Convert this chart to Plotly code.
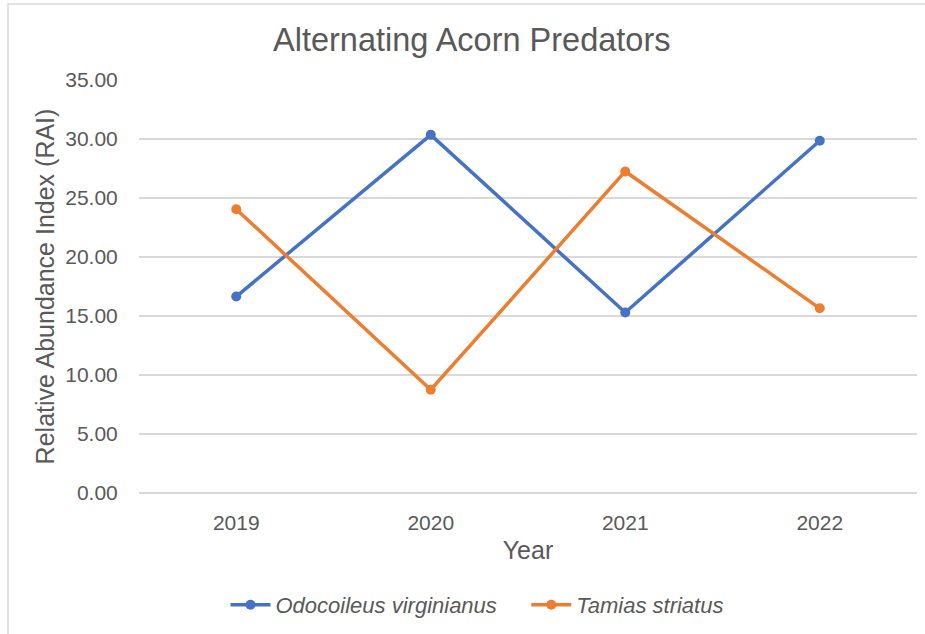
import plotly.graph_objects as go

years = ["2019", "2020", "2021", "2022"]
odocoileus = [16.65, 30.35, 15.30, 29.85]
tamias = [24.05, 8.75, 27.25, 15.65]
series_names = ["Odocoileus virginianus", "Tamias striatus"]
y_ticks = [0, 5, 10, 15, 20, 25, 30, 35]

FONT = "Liberation Sans, Arial, sans-serif"
TXT = "#595959"

fig = go.Figure()
fig.add_trace(go.Scatter(
    x=years, y=odocoileus, name="<i>" + series_names[0] + "</i>" + "&nbsp;" * 4,
    mode="lines+markers",
    line=dict(color="#4472C4", width=3.5),
    marker=dict(size=10, color="#4472C4"),
))
fig.add_trace(go.Scatter(
    x=years, y=tamias, name="<i>" + series_names[1] + "</i>",
    mode="lines+markers",
    line=dict(color="#ED7D31", width=3.5),
    marker=dict(size=10, color="#ED7D31"),
))

fig.update_layout(
    width=925, height=634,
    paper_bgcolor="white", plot_bgcolor="white",
    margin=dict(l=139, r=8, t=80, b=141),
    font=dict(family=FONT, color=TXT, size=21),
    title=dict(text="Alternating Acorn Predators", x=0.51, xanchor="center",
               yref="container", y=1 - 40 / 634, yanchor="middle",
               font=dict(size=32.5, color=TXT, family=FONT)),
    xaxis=dict(
        type="category", range=[-0.5, 3.5],
        showgrid=False, showline=False, zeroline=False,
        ticks="outside", ticklen=11, tickcolor="rgba(0,0,0,0)",
        tickfont=dict(size=21, color=TXT),
        title=dict(text="Year", font=dict(size=25, color=TXT), standoff=8),
    ),
    yaxis=dict(
        range=[0, 35], tickvals=y_ticks, tickformat=".2f",
        showgrid=True, gridcolor="#D9D9D9", gridwidth=1.5,
        zeroline=True, zerolinecolor="#D9D9D9", zerolinewidth=1.5,
        showline=False,
        ticks="outside", ticklen=16, tickcolor="rgba(0,0,0,0)",
        tickfont=dict(size=21, color=TXT),
        title=dict(text="Relative Abundance Index (RAI)", font=dict(size=25, color=TXT), standoff=3),
    ),
    legend=dict(orientation="h", x=477 / 925, xanchor="center", xref="container",
                y=1 - 605 / 634, yref="container", yanchor="middle",
                font=dict(size=22, color=TXT), itemwidth=40),
)
# outer chart border (light gray)
fig.add_shape(type="rect", xref="x domain", yref="y domain",
              x0=(8 - 139) / 778, x1=(925 - 139) / 778 + 0.01,
              y0=(493 - 640) / 413, y1=(493 - 4) / 413,
              line=dict(color="#D9D9D9", width=1.5), fillcolor="rgba(0,0,0,0)", layer="below")

fig.write_html("out.html", config={"displayModeBar": False},
               post_script="document.body.style.margin='0';")
